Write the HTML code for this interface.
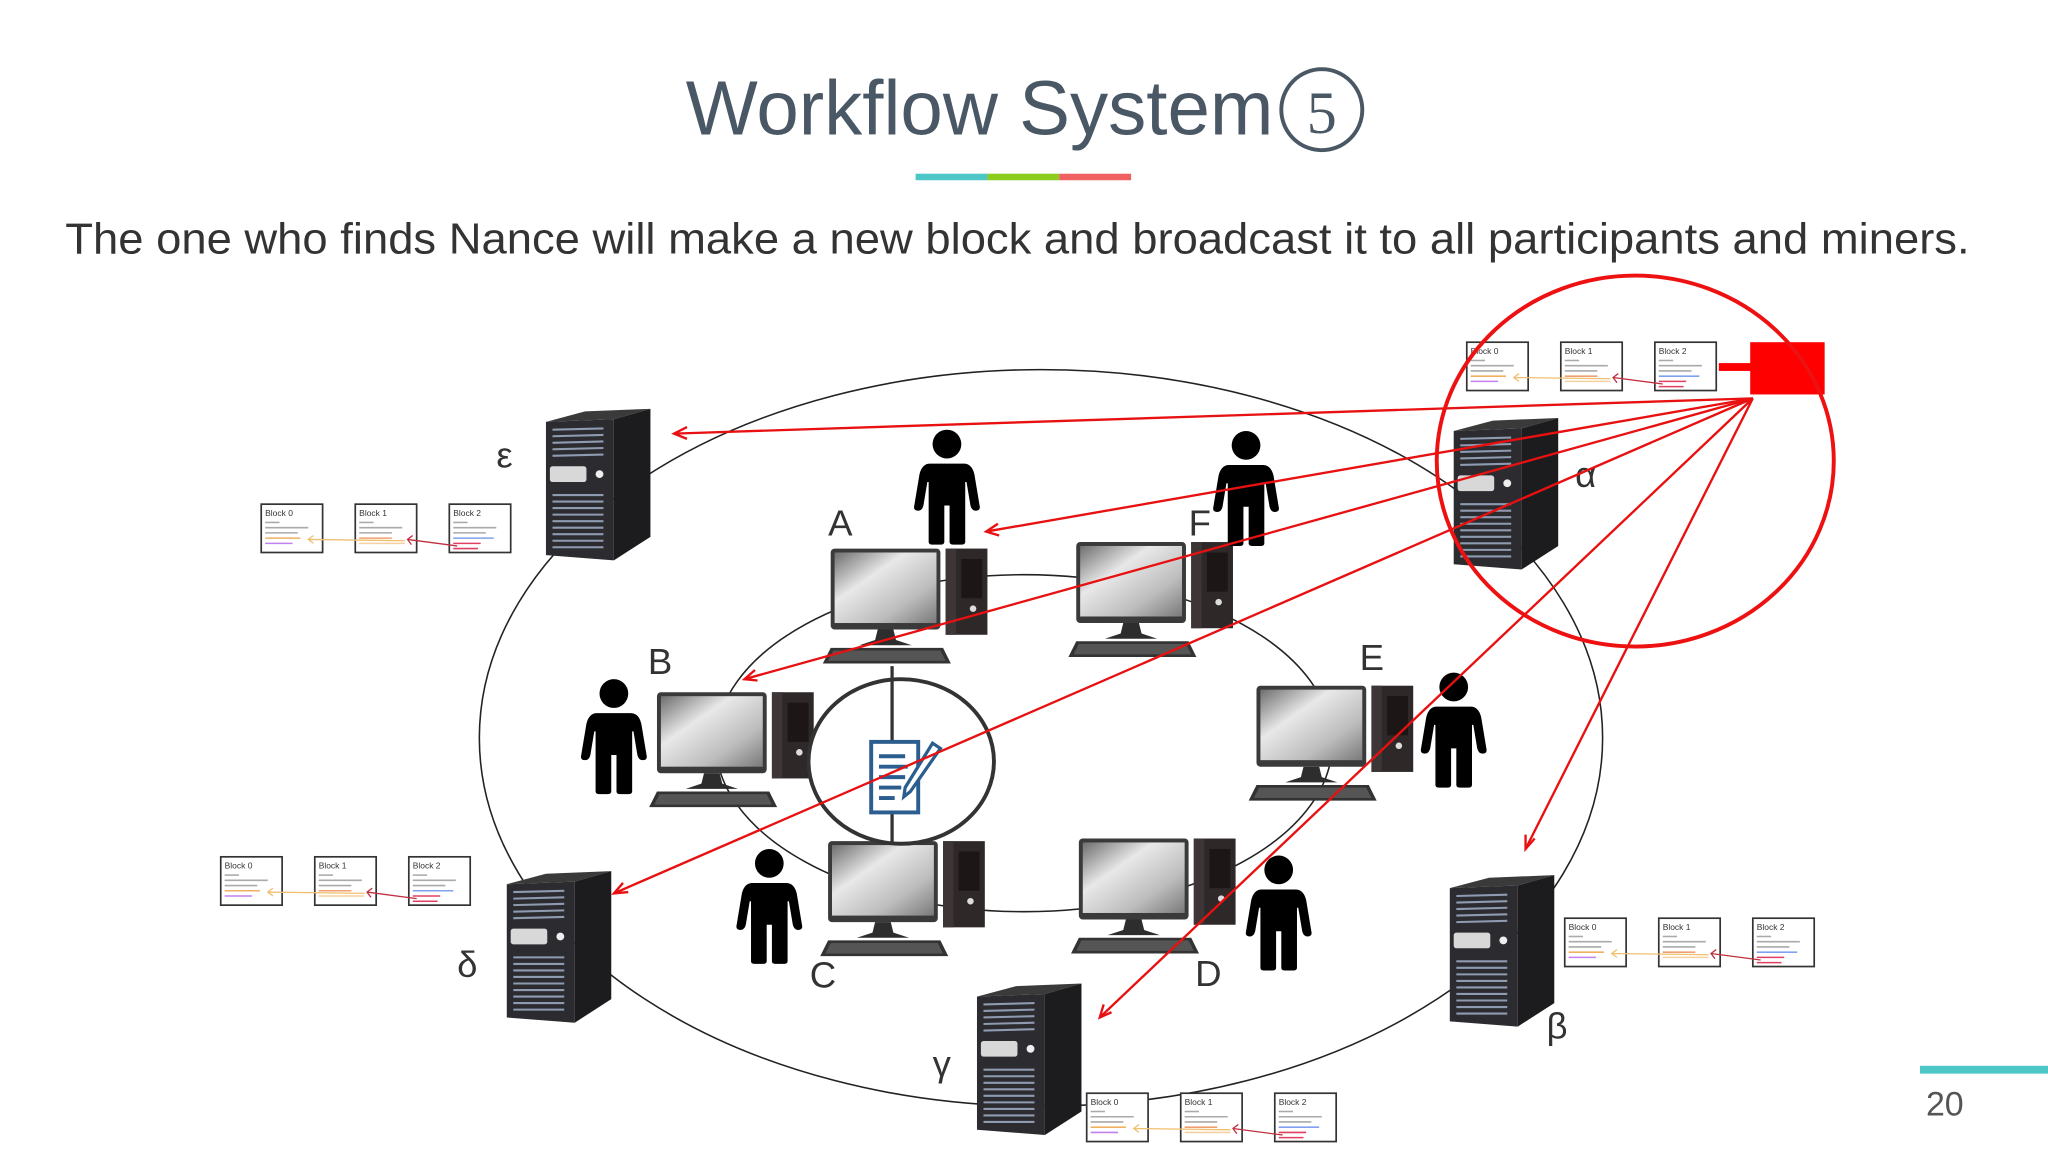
<!DOCTYPE html>
<html><head><meta charset="utf-8"><style>
html,body{margin:0;padding:0;background:#fff;}
svg{display:block;}
</style></head><body>
<svg width="2048" height="1152" viewBox="0 0 1568 882" xmlns="http://www.w3.org/2000/svg" font-family="Liberation Sans, DejaVu Sans, sans-serif">
<defs>
<linearGradient id="scr" x1="0" y1="0" x2="1" y2="1">
<stop offset="0" stop-color="#6e6e6e"/><stop offset="0.35" stop-color="#e8e8e8"/><stop offset="0.7" stop-color="#bdbdbd"/><stop offset="1" stop-color="#7a7a7a"/>
</linearGradient>
<g id="pc">
<rect x="0" y="0" width="84" height="62" rx="3" fill="#3a3a3a"/>
<rect x="3" y="3" width="78" height="54" fill="url(#scr)"/>
<path d="M36 62 L48 62 L50 70 L62 74 L22 74 L34 70Z" fill="#2d2d2d"/>
<path d="M0 76 L86 76 L92 88 L-6 88Z" fill="#333"/>
<path d="M2 78 L84 78 L88 86 L-2 86Z" fill="#555"/>
<rect x="88" y="0" width="32" height="66" fill="#2e2828"/>
<rect x="88" y="0" width="8" height="66" fill="#3e3636"/>
<rect x="100" y="8" width="16" height="30" fill="#1d1616"/>
<circle cx="109" cy="46" r="2.5" fill="#ddd"/>
</g>
<g id="srv">
<path d="M0 10 L30 2 L80 0 L52 8Z" fill="#3a3a3a"/>
<path d="M52 8 L80 0 L80 98 L52 116Z" fill="#1c1c1e"/>
<path d="M0 10 L52 8 L52 116 L0 112Z" fill="#2c2c30"/>
<g stroke="#8e9ab0" stroke-width="1.6">
<line x1="5" y1="16" x2="44" y2="15"/><line x1="5" y1="21" x2="44" y2="20"/><line x1="5" y1="26" x2="44" y2="25"/><line x1="5" y1="31" x2="44" y2="30"/><line x1="5" y1="36" x2="44" y2="35"/>
<line x1="5" y1="66" x2="44" y2="66"/><line x1="5" y1="71" x2="44" y2="71"/><line x1="5" y1="76" x2="44" y2="76"/><line x1="5" y1="81" x2="44" y2="81"/><line x1="5" y1="86" x2="44" y2="86"/><line x1="5" y1="91" x2="44" y2="91"/><line x1="5" y1="96" x2="44" y2="96"/><line x1="5" y1="101" x2="44" y2="101"/><line x1="5" y1="106" x2="44" y2="106"/>
</g>
<rect x="3" y="44" width="28" height="12" rx="2" fill="#d8d8d8"/>
<circle cx="41" cy="50" r="3" fill="#eee"/>
</g>
<g id="man">
<circle cx="25" cy="11" r="11" fill="#000"/>
<path d="M12 26 L38 26 Q44 26 46 34 L50 58 Q51 62 47 62 Q44 62 43 58 L40 40 L39 40 L39 86 Q39 88 36 88 L30 88 Q27 88 27 86 L27 58 L23 58 L23 86 Q23 88 20 88 L14 88 Q11 88 11 86 L11 40 L10 40 L7 58 Q6 62 3 62 Q-1 62 0 58 L4 34 Q6 26 12 26Z" fill="#000"/>
</g>
<g id="chain">
<rect x="0" y="0" width="47" height="37" fill="#fff" stroke="#333" stroke-width="1.3"/>
<rect x="72" y="0" width="47" height="37" fill="#fff" stroke="#333" stroke-width="1.3"/>
<rect x="144" y="0" width="47" height="37" fill="#fff" stroke="#333" stroke-width="1.3"/>
<text x="3" y="9" font-size="6.5" fill="#333">Block 0</text>
<text x="75" y="9" font-size="6.5" fill="#333">Block 1</text>
<text x="147" y="9" font-size="6.5" fill="#333">Block 2</text>
<g stroke="#aaa" stroke-width="1.2">
<line x1="3" y1="14" x2="14" y2="14"/><line x1="3" y1="18" x2="36" y2="18"/><line x1="3" y1="22" x2="28" y2="22"/>
<line x1="75" y1="14" x2="86" y2="14"/><line x1="75" y1="18" x2="108" y2="18"/><line x1="75" y1="22" x2="100" y2="22"/>
<line x1="147" y1="14" x2="158" y2="14"/><line x1="147" y1="18" x2="180" y2="18"/><line x1="147" y1="22" x2="172" y2="22"/>
</g>
<line x1="3" y1="26" x2="30" y2="26" stroke="#f0b060" stroke-width="1.2"/><line x1="3" y1="30" x2="24" y2="30" stroke="#c080f0" stroke-width="1.2"/>
<line x1="75" y1="26" x2="100" y2="26" stroke="#f0a070" stroke-width="1.2"/><line x1="75" y1="30" x2="110" y2="30" stroke="#f5d0a0" stroke-width="1.2"/>
<line x1="147" y1="26" x2="178" y2="26" stroke="#80a0f0" stroke-width="1.2"/><line x1="147" y1="30" x2="168" y2="30" stroke="#e04060" stroke-width="1.2"/><line x1="147" y1="34" x2="166" y2="34" stroke="#e04060" stroke-width="1.2"/>
<path d="M110 28 L36 27 M40 24 L36 27 L40 30" stroke="#f0c070" stroke-width="1" fill="none"/>
<path d="M150 32 L112 27 M116 24 L112 27 L115 31" stroke="#c03040" stroke-width="1" fill="none"/>
</g>
</defs>

<text x="525" y="103" font-size="59" fill="#4a5866" textLength="450" lengthAdjust="spacingAndGlyphs">Workflow System</text>
<circle cx="1012" cy="84" r="31" fill="none" stroke="#4a5866" stroke-width="3"/>
<text x="1012" y="102" text-anchor="middle" font-size="46" fill="#4a5866" font-family="Liberation Serif, serif">5</text>
<rect x="701" y="133" width="55" height="5" fill="#4cc6c6"/>
<rect x="756" y="133" width="55" height="5" fill="#8ccc1e"/>
<rect x="811" y="133" width="55" height="5" fill="#f06060"/>
<text x="50" y="194" font-size="33" fill="#333" textLength="1458" lengthAdjust="spacingAndGlyphs">The one who finds Nance will make a new block and broadcast it to all participants and miners.</text>

<ellipse cx="797" cy="565" rx="430" ry="282" fill="none" stroke="#222" stroke-width="1.2"/>
<ellipse cx="784" cy="569" rx="236" ry="129" fill="none" stroke="#222" stroke-width="1.2"/>

<use href="#pc" x="636" y="420"/>
<use href="#pc" x="824" y="415"/>
<use href="#pc" x="503" y="530"/>
<use href="#pc" x="962" y="525"/>
<use href="#pc" x="634" y="644"/>
<use href="#pc" x="826" y="642"/>

<ellipse cx="690" cy="583" rx="71" ry="63" fill="#fff" stroke="#333" stroke-width="3"/>
<line x1="683" y1="510" x2="683" y2="572" stroke="#333" stroke-width="2.5"/>
<line x1="683" y1="620" x2="683" y2="646" stroke="#333" stroke-width="2.5"/>
<rect x="667" y="568" width="36" height="54" fill="#fff" stroke="#2b5d8f" stroke-width="3"/>
<g stroke="#2b5d8f" stroke-width="3"><line x1="673" y1="579" x2="693" y2="579"/><line x1="673" y1="587" x2="695" y2="587"/><line x1="673" y1="595" x2="693" y2="595"/><line x1="673" y1="603" x2="690" y2="603"/><line x1="673" y1="611" x2="685" y2="611"/></g>
<path d="M714 569 L720 573 L697 606 L692 610 L693 603Z" fill="#fff" stroke="#2b5d8f" stroke-width="2.5"/>

<use href="#man" x="700" y="329"/>
<use href="#man" x="929" y="330"/>
<use href="#man" x="445" y="520"/>
<use href="#man" x="1088" y="515"/>
<use href="#man" x="564" y="650"/>
<use href="#man" x="954" y="655"/>

<g font-size="28" fill="#333">
<text x="634" y="410">A</text><text x="910" y="410">F</text><text x="496" y="516">B</text><text x="1041" y="513">E</text><text x="620" y="756">C</text><text x="915" y="755">D</text>
</g>

<use href="#srv" x="418" y="313"/>
<use href="#srv" x="1113" y="320"/>
<use href="#srv" x="388" y="667"/>
<use href="#srv" x="748" y="753"/>
<use href="#srv" x="1110" y="670"/>
<g font-size="28" fill="#333">
<text x="380" y="358">ε</text><text x="1206" y="373">α</text><text x="350" y="748">δ</text><text x="714" y="824">γ</text><text x="1184" y="795">β</text>
</g>

<use href="#chain" x="1123" y="262"/>
<use href="#chain" x="200" y="386"/>
<use href="#chain" x="169" y="656"/>
<use href="#chain" x="1198" y="703"/>
<use href="#chain" x="832" y="837"/>

<g stroke="#e81010" stroke-width="1.8" fill="none">
<line x1="1342" y1="305" x2="516" y2="332"/><path d="M526 327 L516 332 L526 336"/>
<line x1="1342" y1="305" x2="755" y2="407"/><path d="M764 401 L755 407 L765 410"/>
<line x1="1342" y1="305" x2="570" y2="520"/><path d="M578 513 L570 520 L580 521"/>
<line x1="1342" y1="305" x2="470" y2="684"/><path d="M477 676 L470 684 L481 683"/>
<line x1="1342" y1="305" x2="842" y2="779"/><path d="M845 769 L842 779 L851 775"/>
<line x1="1342" y1="305" x2="1168" y2="650"/><path d="M1168 639 L1168 650 L1175 642"/>
</g>
<rect x="1340" y="262" width="57" height="40" fill="#ff0000"/>
<rect x="1316" y="278" width="26" height="6" fill="#ff0000"/>
<ellipse cx="1252" cy="353" rx="152" ry="142" fill="none" stroke="#ee1111" stroke-width="3"/>

<rect x="1470" y="816" width="98" height="6" fill="#4cc6c6"/>
<text x="1489" y="854" text-anchor="middle" font-size="26" fill="#555">20</text>
</svg>
</body></html>
